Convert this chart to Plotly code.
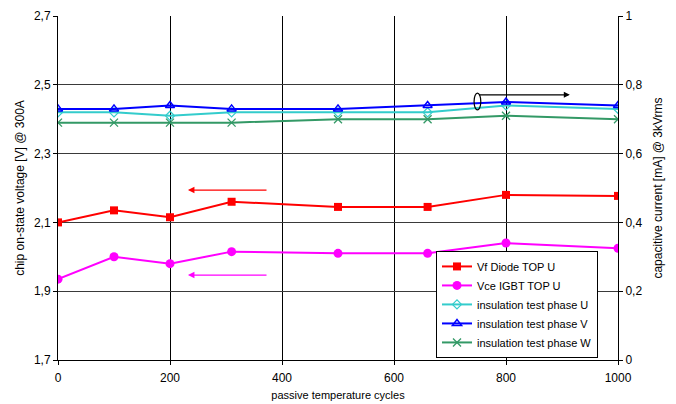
import plotly.graph_objects as go

cycles = [0, 100, 200, 310, 500, 660, 800, 1000]
vf_diode = [2.10, 2.135, 2.115, 2.16, 2.145, 2.145, 2.18, 2.177]
vce_igbt = [1.935, 2.00, 1.98, 2.015, 2.01, 2.01, 2.04, 2.025]
ins_u = [0.72, 0.72, 0.71, 0.72, 0.72, 0.72, 0.74, 0.73]
ins_v = [0.73, 0.73, 0.74, 0.73, 0.73, 0.74, 0.75, 0.74]
ins_w = [0.69, 0.69, 0.69, 0.69, 0.70, 0.70, 0.71, 0.70]

x_ticks = [0, 200, 400, 600, 800, 1000]
y_left_vals = [1.7, 1.9, 2.1, 2.3, 2.5, 2.7]
y_left_text = ["1,7", "1,9", "2,1", "2,3", "2,5", "2,7"]
y_right_vals = [0, 0.2, 0.4, 0.6, 0.8, 1.0]
y_right_text = ["0", "0,2", "0,4", "0,6", "0,8", "1"]

font = "Liberation Sans, Arial, sans-serif"

fig = go.Figure()
fig.add_trace(go.Scatter(x=cycles, y=vf_diode, name="Vf Diode TOP U", mode="lines+markers",
                         line=dict(color="#FF0000", width=2),
                         marker=dict(symbol="square", size=8, color="#FF0000")))
fig.add_trace(go.Scatter(x=cycles, y=vce_igbt, name="Vce IGBT TOP U", mode="lines+markers",
                         line=dict(color="#FF00FF", width=2),
                         marker=dict(symbol="circle", size=9, color="#FF00FF")))
fig.add_trace(go.Scatter(x=cycles, y=ins_u, name="insulation test phase U", mode="lines+markers",
                         yaxis="y2", line=dict(color="#33CCCC", width=2),
                         marker=dict(symbol="diamond-open", size=7, color="#33CCCC", line=dict(width=1.2))))
fig.add_trace(go.Scatter(x=cycles, y=ins_v, name="insulation test phase V", mode="lines+markers",
                         yaxis="y2", line=dict(color="#0000FF", width=2),
                         marker=dict(symbol="triangle-up-open", size=8, color="#0000FF", line=dict(width=1.5))))
fig.add_trace(go.Scatter(x=cycles, y=ins_w, name="insulation test phase W", mode="lines+markers",
                         yaxis="y2", line=dict(color="#339966", width=2),
                         marker=dict(symbol="x-thin-open", size=8, color="#339966", line=dict(width=1.3, color="#339966"))))

# arrows indicating axes
fig.add_annotation(x=232, y=2.194, ax=375, ay=2.194, xref="x", yref="y", axref="x", ayref="y",
                   text="", showarrow=True, arrowhead=2, arrowsize=1, arrowwidth=1.3, arrowcolor="#FF0000")
fig.add_annotation(x=232, y=1.947, ax=375, ay=1.947, xref="x", yref="y", axref="x", ayref="y",
                   text="", showarrow=True, arrowhead=2, arrowsize=1, arrowwidth=1.3, arrowcolor="#FF00FF")
fig.add_annotation(x=914, y=0.771, ax=749, ay=0.771, xref="x", yref="y2", axref="x", ayref="y2",
                   text="", showarrow=True, arrowhead=2, arrowsize=1, arrowwidth=1.2, arrowcolor="#000000")
fig.add_shape(type="circle", xref="x", yref="y2", x0=743, x1=755, y0=0.727, y1=0.776,
              line=dict(color="#000000", width=1.2))

fig.update_layout(
    width=676, height=404,
    margin=dict(l=58, r=58, t=16, b=44, autoexpand=False),
    paper_bgcolor="white", plot_bgcolor="white",
    font=dict(family=font, size=12, color="#000000"),
    showlegend=True,
    legend=dict(x=0.675, y=0.006, xanchor="left", yanchor="bottom",
                bgcolor="white", bordercolor="#000000", borderwidth=1,
                font=dict(size=11), tracegroupgap=0, itemwidth=30),
    xaxis=dict(range=[0, 1000], tickvals=x_ticks, showgrid=True, gridcolor="#000000", gridwidth=1,
               zeroline=False, showline=True, linecolor="#000000", linewidth=1, automargin=False,
               ticks="outside", ticklen=4, tickcolor="#000000", ticklabelstandoff=3, tickfont=dict(size=12),
               title=dict(text="passive temperature cycles", font=dict(size=11), standoff=6)),
    yaxis=dict(range=[1.7, 2.7], tickvals=y_left_vals, ticktext=y_left_text, showgrid=True,
               gridcolor="#3a3a3a", gridwidth=1, zeroline=False, showline=True, linecolor="#000000",
               linewidth=1, ticks="outside", ticklen=4, tickcolor="#000000", tickfont=dict(size=12),
               automargin=False,
               title=dict(text="chip on-state voltage [V] @ 300A", font=dict(size=12), standoff=6)),
    yaxis2=dict(range=[0, 1], tickvals=y_right_vals, ticktext=y_right_text, overlaying="y", side="right",
                showgrid=False, zeroline=False, showline=True, linecolor="#000000", linewidth=1,
                ticks="outside", ticklen=4, tickcolor="#000000", tickfont=dict(size=12), automargin=False,
                title=dict(text="capacitive current [mA] @ 3kVrms", font=dict(size=12), standoff=12)),
)

fig.write_html("out.html", config={"displayModeBar": False},
               post_script="document.body.style.margin='0';")
